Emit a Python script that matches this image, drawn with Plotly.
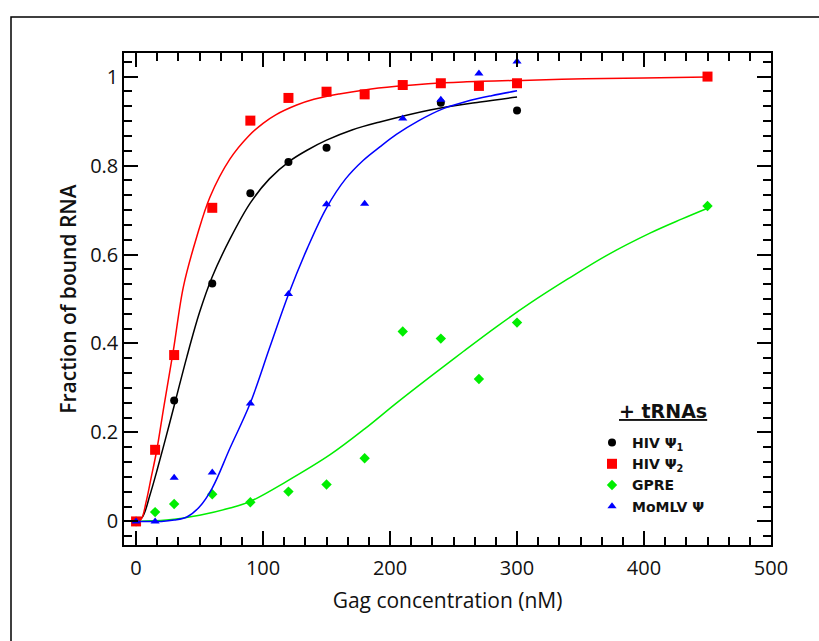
import plotly.graph_objects as go

# ---------------- data ----------------
conc = [0, 15, 30, 60, 90, 120, 150, 180, 210, 240, 270, 300, 450]

# HIV Psi1 (black circles)
hiv1_x = [30, 60, 90, 120, 150, 240, 300]
hiv1_y = [0.272, 0.535, 0.738, 0.808, 0.840, 0.941, 0.924]

# HIV Psi2 (red squares)
hiv2_x = conc
hiv2_y = [0.0, 0.161, 0.374, 0.705, 0.901, 0.952, 0.966, 0.960, 0.981, 0.985, 0.979, 0.985, 1.0]

# GPRE (green diamonds)
gpre_x = conc
gpre_y = [0.0, 0.021, 0.039, 0.061, 0.043, 0.067, 0.083, 0.142, 0.427, 0.411, 0.320, 0.447, 0.709]

# MoMLV Psi (blue triangles)
momlv_x = conc[:12]
momlv_y = [0.0, 0.0, 0.098, 0.110, 0.265, 0.511, 0.713, 0.714, 0.906, 0.948, 1.007, 1.034]

# fitted curves
fit1_x = [0, 5, 11, 17, 23.6, 30, 40, 50, 60, 74, 90, 105, 121, 135, 150, 170, 192, 231.5, 271, 300]
fit1_y = [0, 0.01, 0.06, 0.12, 0.19, 0.26, 0.37, 0.47, 0.55, 0.635, 0.716, 0.77, 0.81, 0.835, 0.857, 0.88, 0.898, 0.925, 0.943, 0.954]

fit2_x = [0, 4, 8, 12, 16.3, 22, 29.4, 37.3, 47.8, 58.3, 74, 88.5, 100, 110, 126.5, 140, 160, 180, 205, 230, 257.6, 310, 353.5, 400, 450]
fit2_y = [0, 0.005, 0.045, 0.10, 0.16, 0.26, 0.385, 0.528, 0.64, 0.73, 0.815, 0.866, 0.895, 0.914, 0.936, 0.949, 0.961, 0.970, 0.978, 0.984, 0.988, 0.992, 0.995, 0.997, 0.999]

fit3_x = [0, 24, 50, 74, 90, 118.6, 152.8, 180, 205, 231.5, 257.7, 284, 310, 340, 370, 404.7, 430, 450]
fit3_y = [0, 0.003, 0.014, 0.03, 0.045, 0.09, 0.15, 0.208, 0.266, 0.325, 0.382, 0.438, 0.49, 0.545, 0.597, 0.648, 0.68, 0.704]

fit4_x = [0, 20, 30, 40, 50, 60, 74, 89.8, 105.5, 120, 135, 150, 165, 179, 192, 205, 222, 242, 260, 280, 300]
fit4_y = [0, 0, 0.003, 0.01, 0.033, 0.075, 0.165, 0.265, 0.393, 0.51, 0.615, 0.705, 0.77, 0.812, 0.842, 0.87, 0.9, 0.928, 0.944, 0.957, 0.968]

names = ["HIV \u03a8<sub>1</sub>", "HIV \u03a8<sub>2</sub>", "GPRE", "MoMLV \u03a8"]
colors = ["#000000", "#ff0000", "#00ee00", "#0000ff"]

x_ticks = [0, 100, 200, 300, 400, 500]
y_ticks = [0, 0.2, 0.4, 0.6, 0.8, 1]

# ---------------- figure ----------------
fig = go.Figure()

def curve(x, y, c):
    fig.add_trace(go.Scatter(x=x, y=y, mode="lines", line=dict(color=c, width=1.5, shape="spline", smoothing=1.0),
                             showlegend=False, hoverinfo="skip"))

def pts(x, y, c, sym, size, name, rank):
    fig.add_trace(go.Scatter(x=x, y=y, mode="markers", name=name, legendrank=rank,
                             marker=dict(color=c, symbol=sym, size=size, line=dict(width=0))))

curve(fit1_x, fit1_y, colors[0])
pts(hiv1_x, hiv1_y, colors[0], "circle", 8, names[0], 1)
curve(fit3_x, fit3_y, colors[2])
pts(gpre_x, gpre_y, colors[2], "diamond", 8, names[2], 3)
curve(fit2_x, fit2_y, colors[1])
pts(hiv2_x, hiv2_y, colors[1], "square", 10, names[1], 2)
curve(fit4_x, fit4_y, colors[3])
pts(momlv_x, momlv_y, colors[3], "triangle-up", 8, names[3], 4)

W, H = 819, 641
L, R, T, B = 124, 48, 53, 96
pw, ph = W - L - R, H - T - B

axis_common = dict(showline=True, linecolor="black", linewidth=1.5, mirror="allticks",
                   ticks="inside", ticklen=14, tickwidth=1.5, tickcolor="black",
                   showgrid=False, zeroline=False,
                   tickfont=dict(family="Open Sans", size=20, color="#111111"))

fig.update_xaxes(range=[-9.5, 500], tickvals=x_ticks, ticktext=[str(v) for v in x_ticks],
                 ticklabelstandoff=4,
                 minor=dict(dtick=100 / 6, ticks="inside", ticklen=8, tickwidth=1.5, tickcolor="black", showgrid=False),
                 title=dict(text="Gag concentration (nM)", font=dict(family="Open Sans", size=21, color="#111111"), standoff=14),
                 **axis_common)
fig.update_yaxes(range=[-0.053, 1.053], tickvals=y_ticks, ticktext=["0", "0.2", "0.4", "0.6", "0.8", "1"],
                 minor=dict(dtick=0.2 / 6, ticks="inside", ticklen=8, tickwidth=1.5, tickcolor="black", showgrid=False),
                 title=dict(text="Fraction of bound RNA", font=dict(family="Open Sans", size=21, color="#111111", weight=600), standoff=8),
                 **axis_common)

fig.add_shape(type="rect", xref="paper", yref="paper",
              x0=(11 - L) / pw, x1=1.3, y0=-0.4, y1=(H - B - 17) / ph,
              line=dict(color="black", width=1.5), fillcolor="rgba(0,0,0,0)", layer="below")

# legend heading
fig.add_annotation(text="<b><u>+ tRNAs</u></b>", xref="paper", yref="paper",
                   x=(663 - L) / pw, y=(H - B - 411) / ph, xanchor="center", yanchor="middle",
                   showarrow=False, font=dict(family="DejaVu Sans", size=19, color="#111111"))

fig.update_layout(
    width=W, height=H, autosize=False,
    margin=dict(l=L, r=R, t=T, b=B, pad=0),
    plot_bgcolor="white", paper_bgcolor="white",
    showlegend=True,
    legend=dict(x=(592 - L) / pw, y=(H - B - 427) / ph, xanchor="left", yanchor="top",
                bgcolor="rgba(0,0,0,0)", borderwidth=0,
                font=dict(family="DejaVu Sans", size=14, color="#111111", weight="bold"),
                tracegroupgap=0, itemsizing="trace"),
)

fig.write_html("out.html")
